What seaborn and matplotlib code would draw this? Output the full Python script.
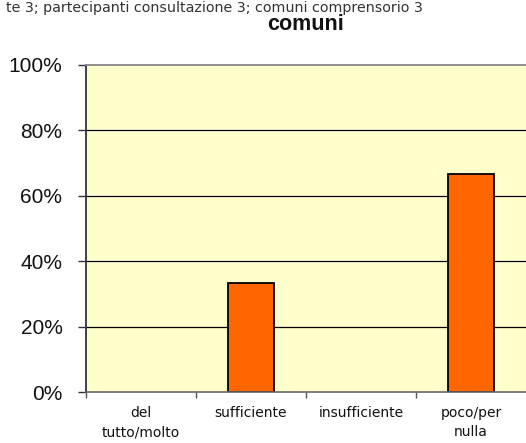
import numpy as np
import pandas as pd
import matplotlib.pyplot as plt
import seaborn as sns
from matplotlib.ticker import FixedLocator, PercentFormatter

# --- data ---
categories = ['del\ntutto/molto', 'sufficiente', 'insufficiente', 'poco/per\nnulla']
values = [0.0, 33.3, 0.0, 66.7]
subtitle = 'te 3; partecipanti consultazione 3; comuni comprensorio 3'
title = 'comuni'

df = pd.DataFrame({'categoria': categories, 'valore': values})

sns.set_style('white')
plt.rcParams['font.family'] = ['DejaVu Sans']

fig = plt.figure(figsize=(5.26, 4.43), dpi=100)
ax = fig.add_axes([86 / 526, 51 / 443, 440 / 526, 327 / 443])
ax.set_facecolor('#FFFFCC')

sns.barplot(data=df, x='categoria', y='valore', color='#FF6600', width=0.42,
            edgecolor='black', linewidth=1.3, saturation=1, ax=ax)
# empty bars should not leave an outline on the axis
for p in ax.patches:
    if p.get_height() == 0:
        p.set_linewidth(0)

ax.set_xlim(-0.5, 3.5)
ax.set_ylim(0, 100)
ax.set_yticks([0, 20, 40, 60, 80, 100])
ax.yaxis.set_major_formatter(PercentFormatter(decimals=0))
for y in [20, 40, 60, 80]:
    ax.axhline(y, color='black', linewidth=0.9, zorder=0)

ax.set_xlabel('')
ax.set_ylabel('')

# y ticks
ax.tick_params(axis='y', which='major', length=6, width=1, color='#333333',
               pad=11, labelsize=15, left=True)
for lbl in ax.get_yticklabels():
    lbl.set_fontfamily(['Liberation Sans'])
    lbl.set_color('#111111')

# x ticks: labels at centres, marks at boundaries
ax.tick_params(axis='x', which='major', length=0, pad=10, labelsize=10)
ax.xaxis.set_minor_locator(FixedLocator([-0.5, 0.5, 1.5, 2.5]))
ax.tick_params(axis='x', which='minor', length=4, width=1, color='#555555',
               bottom=True)
for lbl in ax.get_xticklabels():
    lbl.set_linespacing(1.5)
    lbl.set_color('#111111')

ax.spines['right'].set_visible(False)
ax.spines['left'].set_color('#333333')
ax.spines['left'].set_linewidth(1.3)
ax.spines['bottom'].set_color('#666666')
ax.spines['bottom'].set_linewidth(1.2)
ax.spines['top'].set_color('#888888')
ax.spines['top'].set_linewidth(1.3)

fig.text(306 / 526, 1 - 25 / 443, title, ha='center', va='center',
         fontsize=15.5, fontweight='bold', color='#111111',
         family=['Liberation Sans'])
fig.text(423 / 526, 1 - 8 / 443, subtitle, ha='right', va='center',
         fontsize=10.3, color='#333333')

plt.savefig('out.png', dpi=100)
